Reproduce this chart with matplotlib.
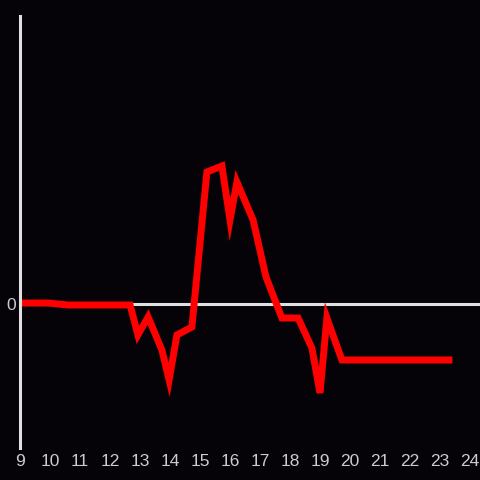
import matplotlib
matplotlib.use("Agg")
import matplotlib.pyplot as plt

# hours of day and signal value (arbitrary units)
hours = [9.0, 9.93, 10.6, 12.67, 12.93, 13.27, 13.73, 13.97, 14.23, 14.73,
         15.23, 15.73, 16.0, 16.23, 16.77, 17.2, 17.73, 18.27, 18.73, 19.0,
         19.23, 19.73, 23.3]
values = [1, 1, -1, -1, -31, -13, -46, -76, -31, -23,
          132, 138, 84, 122, 84, 27, -14, -14, -44, -89,
          -14, -56, -56]
xticks = list(range(9, 25))

plt.rcParams['font.family'] = ['Liberation Sans', 'DejaVu Sans']

bg = "#050307"
fig = plt.figure(figsize=(4.8, 4.8), dpi=100, facecolor=bg)
ax = fig.add_axes([20/480, 32/480, 460/480, 432/480], facecolor=bg)

ax.axhline(0, color="#e0e0e0", lw=2.2, zorder=1)
ax.plot(hours, values, color="#ff0000", lw=5, solid_joinstyle="miter", zorder=2)

ax.set_xlim(9, 24 + 10/30)
ax.set_ylim(-144, 288)
ax.set_xticks(xticks)
ax.set_xticklabels([str(t) for t in xticks])
ax.set_yticks([0])
ax.set_yticklabels(["0"])
ax.tick_params(length=0, colors="#cccccc", labelsize=12.5, pad=4)
ax.tick_params(axis="y", pad=3)

for s in ["top", "right", "bottom"]:
    ax.spines[s].set_visible(False)
ax.spines["left"].set_color("#e0e0e0")
ax.spines["left"].set_linewidth(2.2)

fig.savefig("out.png", dpi=100, facecolor=bg)
